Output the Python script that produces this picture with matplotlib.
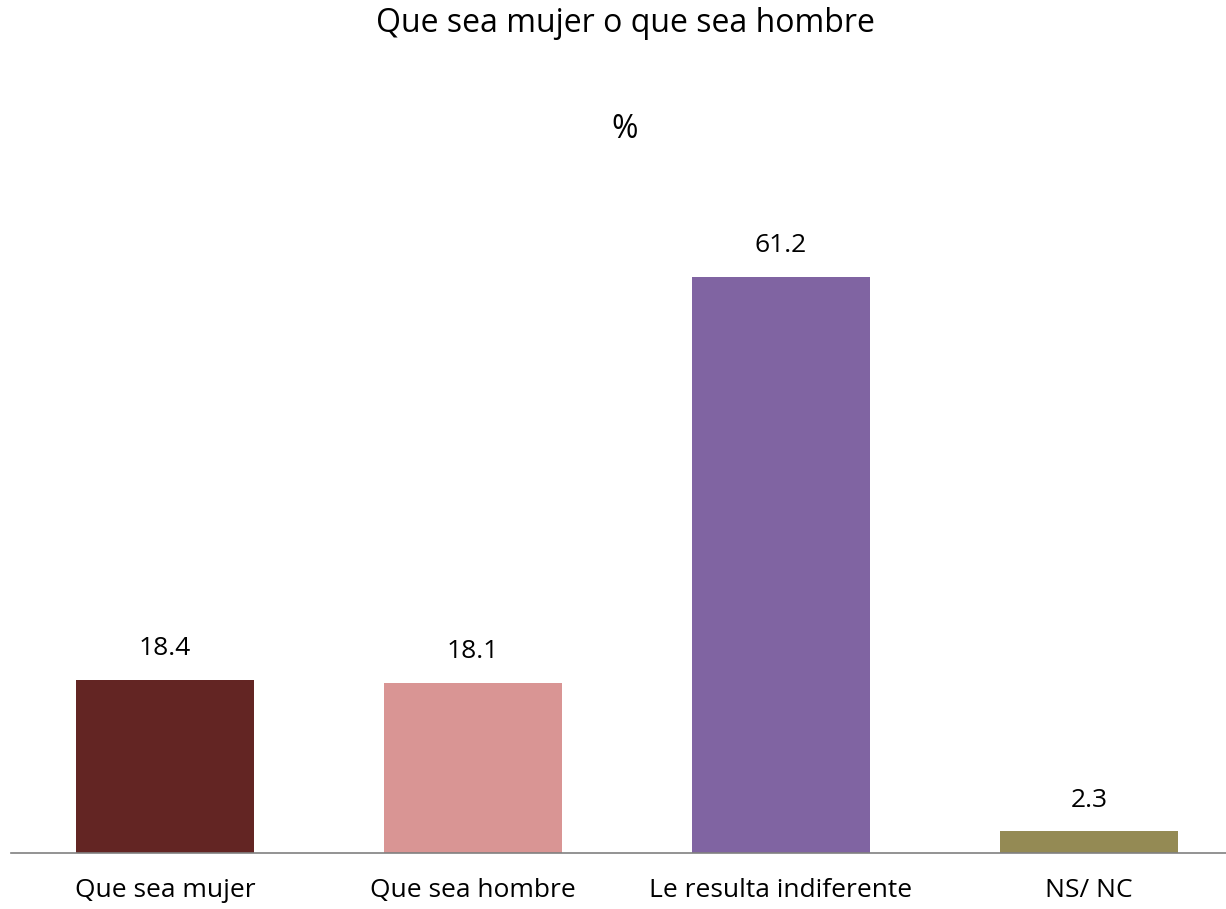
import matplotlib
matplotlib.use('Agg')
import matplotlib.pyplot as plt

categorias = ['Que sea mujer', 'Que sea hombre', 'Le resulta indiferente', 'NS/ NC']
valores = [18.4, 18.1, 61.2, 2.3]
colores = ['#632523', '#D99594', '#8064A2', '#948A54']

plt.rcParams['font.family'] = ['Open Sans', 'DejaVu Sans']

fig = plt.figure(figsize=(12.26, 9.09), dpi=100)
ax = fig.add_axes([11 / 1226, 56 / 909, 1232 / 1226, 659 / 909])

x = range(len(categorias))
barras = ax.bar(x, valores, width=0.58, color=colores)
for b, v in zip(barras, valores):
    ax.text(b.get_x() + b.get_width() / 2, v + 2.0, f'{v:.1f}',
            ha='center', va='bottom', fontsize=19)

ax.set_xlim(-0.5, 3.5)
ax.set_ylim(0, 70)
ax.set_xticks(list(x))
ax.set_xticklabels(categorias, fontsize=19)
ax.tick_params(axis='x', length=0, pad=18)
ax.set_yticks([])
for s in ['top', 'right', 'left']:
    ax.spines[s].set_visible(False)
ax.spines['bottom'].set_color('#808080')
ax.spines['bottom'].set_linewidth(1.2)

fig.text(625 / 1226, 1 - 24 / 909, 'Que sea mujer o que sea hombre',
         ha='center', va='center', fontsize=23)
fig.text(625 / 1226, 1 - 130 / 909, '%', ha='center', va='center', fontsize=23)

fig.savefig('out.png', dpi=100)
